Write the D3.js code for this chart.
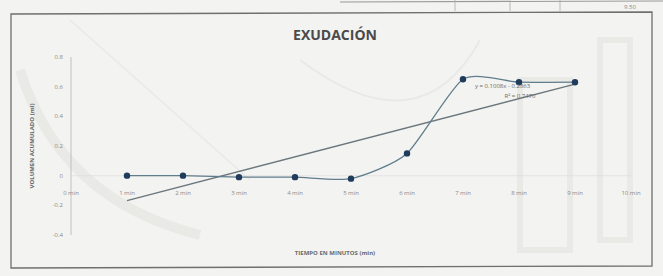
<!DOCTYPE html>
<html>
<head>
<meta charset="UTF-8">
<title>Exudación</title>
<script src="https://cdnjs.cloudflare.com/ajax/libs/d3/7.8.5/d3.min.js"></script>
<style>
    body { margin: 0; background: #f3f3f1; }
    svg { display: block; font-family: "Open Sans", "Liberation Sans", sans-serif; }
    .tick-label { font-size: 6px; fill: #8a8a8a; }
    .axis-title { font-size: 6px; font-weight: bold; fill: #6a6a6a; }
</style>
</head>
<body>
<div id="chart"></div>
<script>
    // categories (x axis) and the accumulated volume per minute
    const categories = ["0 min", "1 min", "2 min", "3 min", "4 min", "5 min", "6 min", "7 min", "8 min", "9 min", "10 min"];
    const minutes = ["1 min", "2 min", "3 min", "4 min", "5 min", "6 min", "7 min", "8 min", "9 min"];
    const volumes = [0, 0, -0.01, -0.01, -0.02, 0.15, 0.65, 0.63, 0.63];
    const yTicks = [-0.4, -0.2, 0, 0.2, 0.4, 0.6, 0.8];
    const equationLines = ["y = 0.1008x - 0.2863", "R\u00b2 = 0.7470"];

    const width = 663, height = 276;
    const svg = d3.select("#chart").append("svg")
        .attr("width", width)
        .attr("height", height);

    // scanned paper look
    svg.append("rect").attr("width", width).attr("height", height).attr("fill", "#f3f3f1");
    // faint watermark shapes from the scan
    const wm = svg.append("g").attr("fill", "none").attr("stroke", "#e9e9e6");
    wm.append("path").attr("d", "M20,70 Q60,200 200,235").attr("stroke-width", 10);
    wm.append("path").attr("d", "M70,20 L250,180").attr("stroke-width", 1.5);
    wm.append("rect").attr("x", 520).attr("y", 80).attr("width", 50).attr("height", 170).attr("stroke-width", 6);
    wm.append("rect").attr("x", 600).attr("y", 40).attr("width", 30).attr("height", 200).attr("stroke-width", 6);
    wm.append("path").attr("d", "M300,60 Q420,150 480,40").attr("stroke-width", 2);

    // remnant of the table above
    svg.append("line").attr("x1", 340).attr("x2", 663).attr("y1", 2).attr("y2", 1)
        .attr("stroke", "#9a9a98").attr("stroke-width", 1.2);
    [455, 510, 560].forEach(x => svg.append("line").attr("x1", x).attr("x2", x)
        .attr("y1", 0).attr("y2", 11).attr("stroke", "#aaa").attr("stroke-width", 0.8));
    svg.append("text").attr("x", 630).attr("y", 9).attr("text-anchor", "middle")
        .attr("font-size", 6).attr("fill", "#888").text("9.50");

    // chart frame
    svg.append("path")
        .attr("d", "M11,14 L652,12 L652,266 L11,268 Z")
        .attr("fill", "none").attr("stroke", "#6f6f6d").attr("stroke-width", 1.3);

    const x = d3.scalePoint().domain(categories).range([71, 631]);
    const y = d3.scaleLinear().domain([-0.4, 0.8]).range([235, 57]);

    // title
    svg.append("text").attr("x", 335).attr("y", 40).attr("text-anchor", "middle")
        .attr("font-size", 14).attr("font-weight", "bold").attr("fill", "#4a4a4a")
        .text("EXUDACIÓN");

    // y axis line
    svg.append("line").attr("x1", 71).attr("x2", 71).attr("y1", y(0.8)).attr("y2", y(-0.4))
        .attr("stroke", "#b4b4b2").attr("stroke-width", 0.8);
    // x axis line at zero
    svg.append("line").attr("x1", 71).attr("x2", 631).attr("y1", y(0)).attr("y2", y(0))
        .attr("stroke", "#dcdcda").attr("stroke-width", 0.6);

    // y tick labels
    svg.append("g").selectAll("text").data(yTicks).join("text")
        .attr("class", "tick-label")
        .attr("x", 63).attr("y", d => y(d)).attr("dy", "0.35em")
        .attr("text-anchor", "end")
        .text(d => d3.format(".1~f")(d).replace("−", "-"));

    // x tick labels, below the zero line
    svg.append("g").selectAll("text").data(categories).join("text")
        .attr("class", "tick-label")
        .attr("x", d => x(d)).attr("y", y(0) + 19)
        .attr("text-anchor", "middle")
        .text(d => d);

    // axis titles
    svg.append("text").attr("class", "axis-title")
        .attr("transform", `translate(34,${(y(0.8) + y(-0.4)) / 2}) rotate(-90)`)
        .attr("text-anchor", "middle").text("VOLUMEN ACUMULADO (ml)");
    svg.append("text").attr("class", "axis-title")
        .attr("x", 335).attr("y", 255).attr("text-anchor", "middle")
        .text("TIEMPO EN MINUTOS (min)");

    // linear trendline over the series
    const pts = minutes.map((m, i) => ({ cat: m, idx: i + 1, v: volumes[i] }));
    const n = pts.length;
    const mx = d3.mean(pts, d => d.idx), my = d3.mean(pts, d => d.v);
    const slope = d3.sum(pts, d => (d.idx - mx) * (d.v - my)) / d3.sum(pts, d => (d.idx - mx) ** 2);
    const intercept = my - slope * mx;
    svg.append("line")
        .attr("x1", x(minutes[0])).attr("y1", y(intercept + slope * 1))
        .attr("x2", x(minutes[n - 1])).attr("y2", y(intercept + slope * n))
        .attr("stroke", "#6b777c").attr("stroke-width", 1.4);

    // smoothed data line
    const line = d3.line()
        .x(d => x(d.cat)).y(d => y(d.v))
        .curve(d3.curveCardinal.tension(0.35));
    svg.append("path").datum(pts)
        .attr("d", line)
        .attr("fill", "none").attr("stroke", "#5f7d8c").attr("stroke-width", 1.3);

    svg.append("g").selectAll("circle").data(pts).join("circle")
        .attr("cx", d => x(d.cat)).attr("cy", d => y(d.v))
        .attr("r", 3.2).attr("fill", "#1f3c5c");

    // trendline equation
    svg.append("g").selectAll("text").data(equationLines).join("text")
        .attr("x", (d, i) => i === 0 ? 475 : 520).attr("y", (d, i) => 88 + i * 10)
        .attr("font-size", 6).attr("fill", "#6a6a6a")
        .attr("text-anchor", (d, i) => i === 0 ? "start" : "middle")
        .text(d => d);
</script>
</body>
</html>
